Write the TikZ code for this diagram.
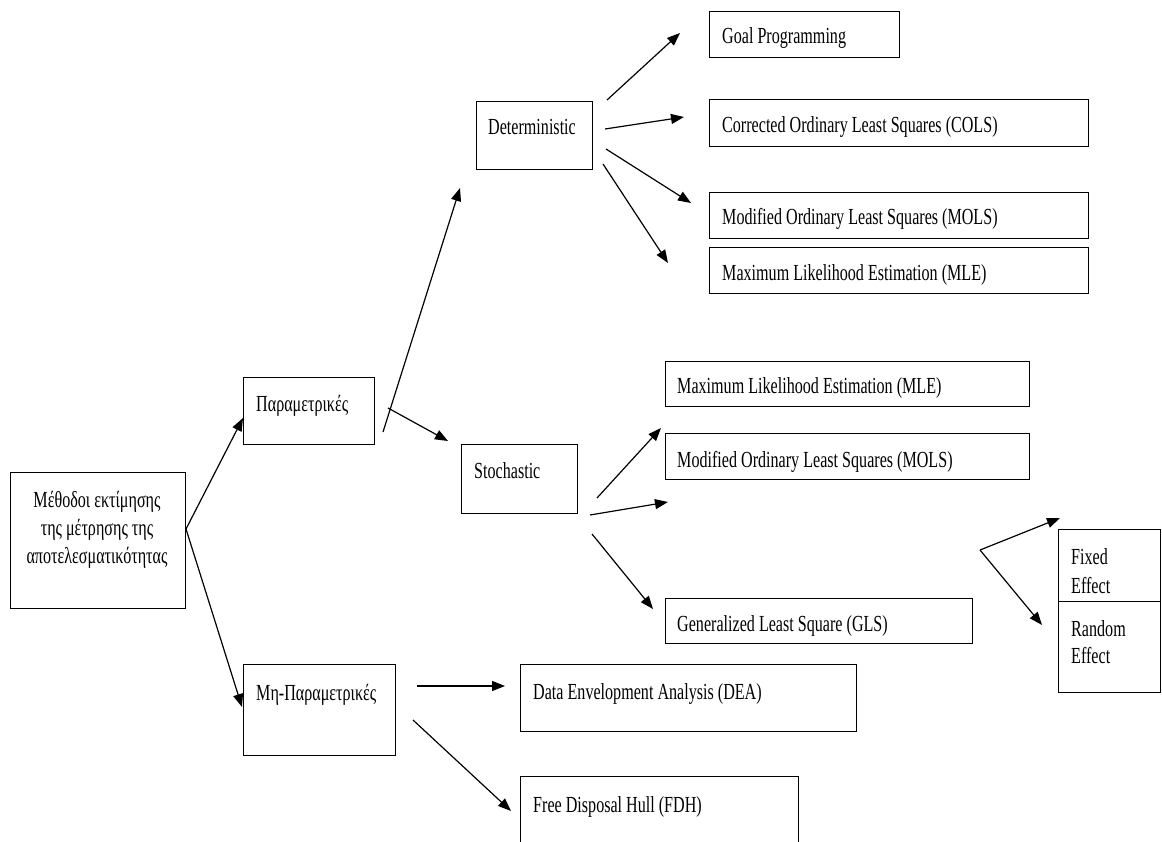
\documentclass[tikz,border=0pt]{standalone}
\usepackage{fontspec}
\setmainfont[FakeStretch=0.70]{Liberation Serif}
\usetikzlibrary{arrows.meta}
\begin{document}
\begin{tikzpicture}[x=1pt,y=-1pt,
  box/.style={draw, line width=1.2pt, inner sep=0pt, anchor=north west},
  txt/.style={anchor=base west, inner sep=0pt, font=\fontsize{23}{28}\selectfont},
  ctxt/.style={anchor=base, inner sep=0pt, font=\fontsize{23}{28}\selectfont},
  arr/.style={line width=1.2pt, -{Triangle[length=13pt,width=10pt]}}]
\useasboundingbox (0,0) rectangle (1162,842);
\clip (0,0) rectangle (1162,842);
% boxes
\node[box, minimum width=175pt, minimum height=136pt] (main) at (10,472) {};
\node[box, minimum width=131pt, minimum height=67pt] (par) at (243,377) {};
\node[box, minimum width=116pt, minimum height=68pt] (det) at (476,101) {};
\node[box, minimum width=190pt, minimum height=46pt] (goal) at (709,11) {};
\node[box, minimum width=379pt, minimum height=47pt] (cols) at (709,99) {};
\node[box, minimum width=379pt, minimum height=46pt] (mols) at (709,192) {};
\node[box, minimum width=379pt, minimum height=46pt] (mle) at (709,247) {};
\node[box, minimum width=116pt, minimum height=69pt] (sto) at (461,444) {};
\node[box, minimum width=364pt, minimum height=45pt] (mleb) at (665,361) {};
\node[box, minimum width=364pt, minimum height=46pt] (molsb) at (665,433) {};
\node[box, minimum width=307pt, minimum height=45pt] (gls) at (665,598) {};
\node[box, minimum width=102pt, minimum height=72pt] (fe) at (1058,529) {};
\node[box, minimum width=102pt, minimum height=91pt] (re) at (1058,601) {};
\node[box, minimum width=152pt, minimum height=91pt] (mh) at (243,664) {};
\node[box, minimum width=336pt, minimum height=67pt] (dea) at (520,664) {};
\node[box, minimum width=278pt, minimum height=100pt] (fdh) at (520,776) {};
% texts
\node[ctxt] (mainA) at (97,507) {Μέθοδοι εκτίμησης};
\node[ctxt] (mainB) at (97,535) {της μέτρησης της};
\node[ctxt] (mainC) at (97,563) {αποτελεσματικότητας};
\node[txt] (parT) at (256,411) {Παραμετρικές};
\node[txt] (detT) at (488,135) {Deterministic};
\node[txt] (goalT) at (722,44) {Goal Programming};
\node[txt] (colsT) at (722,133) {Corrected Ordinary Least Squares (COLS)};
\node[txt] (molsT) at (722,225) {Modified Ordinary Least Squares (MOLS)};
\node[txt] (mleT) at (722,281) {Maximum Likelihood Estimation (MLE)};
\node[txt] (stoT) at (474,478) {Stochastic};
\node[txt] (mlebT) at (677,393) {Maximum Likelihood Estimation (MLE)};
\node[txt] (molsbT) at (677,467) {Modified Ordinary Least Squares (MOLS)};
\node[txt] (glsT) at (677,631) {Generalized Least Square (GLS)};
\node[txt] (feA) at (1071,564) {Fixed};
\node[txt] (feB) at (1071,593) {Effect};
\node[txt] (reA) at (1071,636) {Random};
\node[txt] (reB) at (1071,663) {Effect};
\node[txt] (mhT) at (256,700) {Μη-Παραμετρικές};
\node[txt] (deaT) at (533,699) {Data Envelopment Analysis (DEA)};
\node[txt] (fdhT) at (533,812) {Free Disposal Hull (FDH)};
% arrow end points
\coordinate (v0) at (186,529);
\coordinate (t1) at (243,418);
\coordinate (t2) at (242,707);
\coordinate (s3) at (383,432); \coordinate (t3) at (460,188);
\coordinate (s4) at (388,408); \coordinate (t4) at (448,441);
\coordinate (s5) at (607,100); \coordinate (t5) at (680,33);
\coordinate (s6) at (605,129); \coordinate (t6) at (684,117);
\coordinate (s7) at (606,149); \coordinate (t7) at (691,203);
\coordinate (s8) at (603,164); \coordinate (t8) at (668,263);
\coordinate (s9) at (597,498); \coordinate (t9) at (661,428);
\coordinate (s10) at (590,515); \coordinate (t10) at (668,502);
\coordinate (s11) at (592,534); \coordinate (t11) at (653,609);
\coordinate (fork) at (980,550);
\coordinate (t12) at (1060,518);
\coordinate (t13) at (1042,625);
\coordinate (s14) at (417,686); \coordinate (t14) at (505,686);
\coordinate (s15) at (413,720); \coordinate (t15) at (511,811);
% arrows
\draw[arr] (v0) -- (t1);
\draw[arr] (v0) -- (t2);
\draw[arr] (s3) -- (t3);
\draw[arr] (s4) -- (t4);
\draw[arr] (s5) -- (t5);
\draw[arr] (s6) -- (t6);
\draw[arr] (s7) -- (t7);
\draw[arr] (s8) -- (t8);
\draw[arr] (s9) -- (t9);
\draw[arr] (s10) -- (t10);
\draw[arr] (s11) -- (t11);
\draw[arr] (fork) -- (t12);
\draw[arr] (fork) -- (t13);
\draw[arr] (s14) -- (t14);
\draw[arr] (s15) -- (t15);
\end{tikzpicture}
\end{document}
